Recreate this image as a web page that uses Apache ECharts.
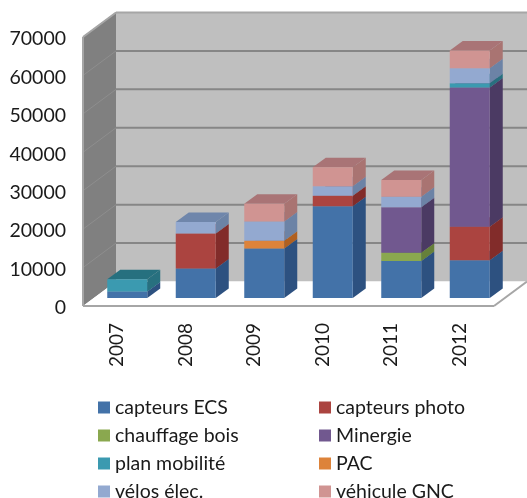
<!DOCTYPE html>
<html>
<head>
<meta charset="utf-8">
<style>
  html, body { margin: 0; padding: 0; background: #fff; }
  #chart { width: 527px; height: 498px; }
</style>
<script src="https://cdn.jsdelivr.net/npm/echarts@6/dist/echarts.min.js"></script>
</head>
<body>
<div id="chart"></div>
<script>
const years = ["2007", "2008", "2009", "2010", "2011", "2012"];
const yTicks = [0, 10000, 20000, 30000, 40000, 50000, 60000, 70000];

const capteursEcs = [1700, 7700, 12900, 23900, 9600, 9800];
const capteursPhoto = [0, 9100, 0, 2700, 0, 8750];
const chauffageBois = [0, 0, 0, 0, 2200, 0];
const minergie = [0, 0, 0, 0, 11800, 36200];
const planMobilite = [3200, 0, 0, 0, 0, 1150];
const pac = [0, 0, 2000, 0, 0, 0];
const velosElec = [0, 3000, 5000, 2500, 2750, 3900];
const vehiculeGnc = [0, 0, 4600, 4900, 4350, 4600];

const seriesNames = ["capteurs ECS", "capteurs photo", "chauffage bois", "Minergie", "plan mobilité", "PAC", "vélos élec.", "véhicule GNC"];
const seriesValues = [capteursEcs, capteursPhoto, chauffageBois, minergie, planMobilite, pac, velosElec, vehiculeGnc];
const frontColors = ["#4372a8", "#ab4440", "#8aa84f", "#71588f", "#3b9ab0", "#dd833a", "#93a9d0", "#d09492"];
const sideColors = ["#2d5180", "#822c2a", "#66803a", "#4b3a63", "#28707f", "#b06020", "#6c83a6", "#a97472"];
const topColors = ["#39628f", "#944040", "#75903f", "#5f4a7a", "#26707f", "#bd6d2c", "#6f86ab", "#a97476"];

// fake 3D depth, in pixels
const wallDx = 33, wallDy = -24.5;
const barDx = 10, barDy = -8;
const sideDx = 13, sideDy = -9.5;
const barWidth = 40;

const chart = echarts.init(document.getElementById("chart"));

function poly(points, color) {
  return { type: "polygon", shape: { points }, style: { fill: color, stroke: null } };
}
function line(x1, y1, x2, y2, color, width) {
  return { type: "line", shape: { x1, y1, x2, y2 }, style: { stroke: color, lineWidth: width } };
}

function renderWalls(params, api) {
  const c = params.coordSys;
  const left = c.x, right = c.x + c.width, bottom = c.y + c.height, top = c.y;
  const children = [
    poly([[left + wallDx, top + wallDy], [right + wallDx, top + wallDy], [right + wallDx, bottom + wallDy], [left + wallDx, bottom + wallDy]], "#bfbfbf"),
    poly([[left, top], [left + wallDx, top + wallDy], [left + wallDx, bottom + wallDy], [left, bottom]], "#808080"),
    poly([[left, bottom], [left + wallDx, bottom + wallDy], [right + wallDx, bottom + wallDy], [right, bottom]], "#ffffff")
  ];
  yTicks.forEach(v => {
    const y = api.coord([0, v])[1];
    if (v > 0) children.push(line(left, y, left + wallDx, y + wallDy, "#8e8e8e", 1));
    if (v > 0) children.push(line(left + wallDx, y + wallDy, right + wallDx, y + wallDy, v === 70000 ? "#a6a6a6" : "#868686", 2));
  });
  children.push(line(left, top, left, bottom, "#a6a6a6", 2));
  children.push(line(left, top, left + wallDx, top + wallDy, "#a6a6a6", 2));
  children.push(line(left, bottom, right, bottom, "#a6a6a6", 2));
  children.push(line(right, bottom, right + wallDx, bottom + wallDy, "#a6a6a6", 2));
  return { type: "group", children };
}

function renderSegment(seriesIdx) {
  return function (params, api) {
    const base = api.value(1), upper = api.value(2);
    if (upper <= base) return null;
    const cx = api.coord([api.value(0), 0])[0] + barDx;
    const y0 = api.coord([0, base])[1] + barDy;
    const y1 = api.coord([0, upper])[1] + barDy;
    const x0 = cx - barWidth / 2, x1 = cx + barWidth / 2;
    const children = [
      poly([[x1, y0], [x1 + sideDx, y0 + sideDy], [x1 + sideDx, y1 + sideDy], [x1, y1]], sideColors[seriesIdx]),
      poly([[x0, y1], [x0 + sideDx, y1 + sideDy], [x1 + sideDx, y1 + sideDy], [x1, y1]], topColors[seriesIdx]),
      poly([[x0, y0], [x0, y1], [x1, y1], [x1, y0]], frontColors[seriesIdx])
    ];
    return { type: "group", children };
  };
}

// stack the values per year
const running = years.map(() => 0);
const barSeries = seriesNames.map((name, s) => {
  const data = years.map((_, i) => {
    const base = running[i];
    running[i] += seriesValues[s][i];
    return [i, base, running[i]];
  });
  return {
    name,
    type: "custom",
    renderItem: renderSegment(s),
    data,
    clip: false,
    z: 3,
    itemStyle: { color: frontColors[s] },
    encode: { x: 0, y: 2 }
  };
});

chart.setOption({
  animation: false,
  textStyle: { fontFamily: "Lato" },
  grid: { left: 83, right: 33, top: 37, bottom: 192 },
  legend: {
    left: 98,
    top: 396,
    width: 440,
    padding: 0,
    selectedMode: false,
    icon: "rect",
    itemWidth: 12,
    itemHeight: 12,
    itemGap: 5,
    data: seriesNames,
    textStyle: { fontFamily: "Lato", fontSize: 19.5, color: "#1a1a1a", width: 199, lineHeight: 23 }
  },
  xAxis: {
    type: "category",
    data: years,
    axisLine: { show: false },
    axisTick: { show: false },
    axisLabel: { rotate: 90, margin: 17, fontSize: 19, color: "#1a1a1a", fontFamily: "Lato" }
  },
  yAxis: {
    type: "value",
    min: 0,
    max: 70000,
    interval: 10000,
    axisLine: { show: false },
    axisTick: { show: false },
    splitLine: { show: false },
    axisLabel: {
      margin: 17,
      fontSize: 19.5,
      color: "#1a1a1a",
      fontFamily: "Lato",
      verticalAlign: "top",
      lineHeight: 4, // nudges the labels 2px below the tick
      formatter: v => String(v)
    }
  },
  series: [
    { type: "custom", renderItem: renderWalls, data: [[0, 0]], clip: false, z: 1, silent: true }
  ].concat(barSeries)
});
</script>
</body>
</html>
